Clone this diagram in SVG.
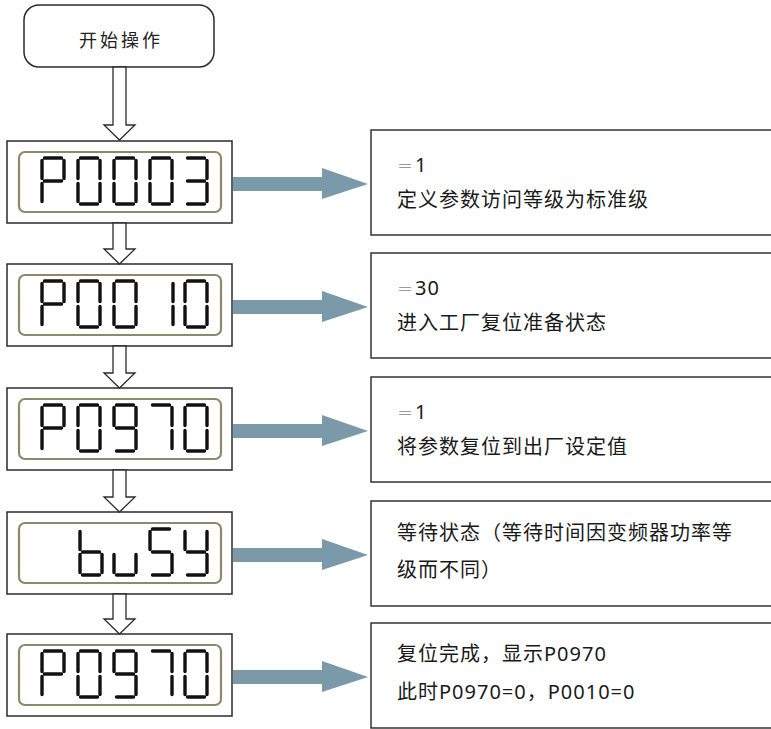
<svg xmlns="http://www.w3.org/2000/svg" xmlns:xlink="http://www.w3.org/1999/xlink" width="771" height="729" viewBox="0 0 771 729">
<style>
.frame{fill:#fff;stroke:#2b2b2b;stroke-width:1.5}
.lcd{fill:none;stroke:#8e896a;stroke-width:2.2}
.seg{fill:none;stroke:#111;stroke-width:3.4;stroke-linecap:round}
.hollow{fill:#fff;stroke:#2b2b2b;stroke-width:1.3;stroke-linejoin:miter}
.blue{fill:#7a99a9}
.tbox{fill:#fff;stroke:#333;stroke-width:1.5}
.t{font-family:"Noto Sans","Noto Sans CJK SC",sans-serif;font-size:20px;fill:#1a1a1a;letter-spacing:1px}
.eq{fill:#999;font-size:16px;letter-spacing:0}
.start{font-family:"Noto Sans CJK SC",sans-serif;font-size:18px;fill:#222;letter-spacing:3px}
</style>
<defs>
<path id="dP" class="seg" d="M2.5 0H19.5M22 2.5V20.5M0 2.5V20.5M2.5 23H19.5M0 25.5V43.5"/>
<path id="d0" class="seg" d="M2.5 0H19.5M22 2.5V20.5M22 25.5V43.5M2.5 46H19.5M0 25.5V43.5M0 2.5V20.5"/>
<path id="d1" class="seg" d="M23 2.5V20.5M23 25.5V43.5"/>
<path id="d3" class="seg" d="M2.5 0H19.5M22 2.5V20.5M22 25.5V43.5M2.5 46H19.5M2.5 23H19.5"/>
<path id="d7" class="seg" d="M2.5 0H19.5M22 2.5V20.5M22 25.5V43.5"/>
<path id="d9" class="seg" d="M2.5 0H19.5M22 2.5V20.5M22 25.5V43.5M2.5 46H19.5M0 2.5V20.5M2.5 23H19.5"/>
<path id="db" class="seg" d="M0 2.5V20.5M0 25.5V43.5M2.5 23H19.5M22 25.5V43.5M2.5 46H19.5"/>
<path id="du" class="seg" d="M0 25.5V43.5M22 25.5V43.5M2.5 46H19.5"/>
<path id="dS" class="seg" d="M2.5 0H19.5M0 2.5V20.5M2.5 23H19.5M22 25.5V43.5M2.5 46H19.5"/>
<path id="dY" class="seg" d="M0 2.5V20.5M22 2.5V20.5M2.5 23H19.5M22 25.5V43.5M2.5 46H19.5"/>
</defs>

<g id="start">
<rect x="24" y="5" width="190" height="62" rx="15" class="frame"/>
<text x="121" y="47" text-anchor="middle" class="start">开始操作</text>
</g>

<g id="disp1">
<rect x="7" y="141" width="225" height="82" class="frame"/>
<rect x="19" y="152" width="202" height="60" rx="6" class="lcd"/>
<use xlink:href="#dP" x="42" y="158"/><use xlink:href="#d0" x="78" y="158"/><use xlink:href="#d0" x="114" y="158"/><use xlink:href="#d0" x="150" y="158"/><use xlink:href="#d3" x="185" y="158"/>
</g>
<g id="disp2">
<rect x="7" y="264" width="225" height="82" class="frame"/>
<rect x="19" y="275" width="202" height="60" rx="6" class="lcd"/>
<use xlink:href="#dP" x="42" y="281"/><use xlink:href="#d0" x="78" y="281"/><use xlink:href="#d0" x="114" y="281"/><use xlink:href="#d1" x="150" y="281"/><use xlink:href="#d0" x="185" y="281"/>
</g>
<g id="disp3">
<rect x="7" y="388" width="225" height="82" class="frame"/>
<rect x="19" y="399" width="202" height="60" rx="6" class="lcd"/>
<use xlink:href="#dP" x="42" y="405"/><use xlink:href="#d0" x="78" y="405"/><use xlink:href="#d9" x="114" y="405"/><use xlink:href="#d7" x="150" y="405"/><use xlink:href="#d0" x="185" y="405"/>
</g>
<g id="disp4">
<rect x="7" y="512" width="225" height="82" class="frame"/>
<rect x="19" y="523" width="202" height="60" rx="6" class="lcd"/>
<use xlink:href="#db" x="80" y="529"/><use xlink:href="#du" x="114" y="529"/><use xlink:href="#dS" x="150" y="529"/><use xlink:href="#dY" x="185" y="529"/>
</g>
<g id="disp5">
<rect x="7" y="634" width="225" height="82" class="frame"/>
<rect x="19" y="645" width="202" height="60" rx="6" class="lcd"/>
<use xlink:href="#dP" x="42" y="651"/><use xlink:href="#d0" x="78" y="651"/><use xlink:href="#d9" x="114" y="651"/><use xlink:href="#d7" x="150" y="651"/><use xlink:href="#d0" x="185" y="651"/>
</g>

<g id="note1">
<rect x="371" y="130" width="430" height="105" class="tbox"/>
<text class="t" x="397" y="172"><tspan class="eq">＝</tspan><tspan dx="2">1</tspan></text>
<text class="t" x="397" y="207">定义参数访问等级为标准级</text>
</g>
<g id="note2">
<rect x="371" y="253" width="430" height="105" class="tbox"/>
<text class="t" x="397" y="295"><tspan class="eq">＝</tspan><tspan dx="2">30</tspan></text>
<text class="t" x="397" y="330">进入工厂复位准备状态</text>
</g>
<g id="note3">
<rect x="371" y="377" width="430" height="105" class="tbox"/>
<text class="t" x="397" y="419"><tspan class="eq">＝</tspan><tspan dx="2">1</tspan></text>
<text class="t" x="397" y="454">将参数复位到出厂设定值</text>
</g>
<g id="note4">
<rect x="371" y="501" width="430" height="105" class="tbox"/>
<text class="t" x="397" y="540">等待状态（等待时间因变频器功率等</text>
<text class="t" x="397" y="577">级而不同）</text>
</g>
<g id="note5">
<rect x="371" y="623" width="430" height="105" class="tbox"/>
<text class="t" x="397" y="661">复位完成，显示P0970</text>
<text class="t" x="397" y="699">此时P0970=0，P0010=0</text>
</g>

<g id="connectors">
<polygon class="hollow" points="113,67 126,67 126,125 135,125 119.5,140 104,125 113,125"/>
<polygon class="hollow" points="113,223 126,223 126,249 135,249 119.5,264 104,249 113,249"/>
<polygon class="hollow" points="113,346 126,346 126,373 135,373 119.5,388 104,373 113,373"/>
<polygon class="hollow" points="113,470 126,470 126,497 135,497 119.5,512 104,497 113,497"/>
<polygon class="hollow" points="113,594 126,594 126,619 135,619 119.5,634 104,619 113,619"/>
<polygon class="blue" points="233,177 322,177 322,168 368,184 322,199 322,191 233,191"/>
<polygon class="blue" points="233,300 322,300 322,291 368,307 322,322 322,314 233,314"/>
<polygon class="blue" points="233,424 322,424 322,415 368,431 322,446 322,438 233,438"/>
<polygon class="blue" points="233,548 322,548 322,539 368,555 322,570 322,562 233,562"/>
<polygon class="blue" points="233,670 322,670 322,661 368,677 322,692 322,684 233,684"/>
</g>
</svg>
